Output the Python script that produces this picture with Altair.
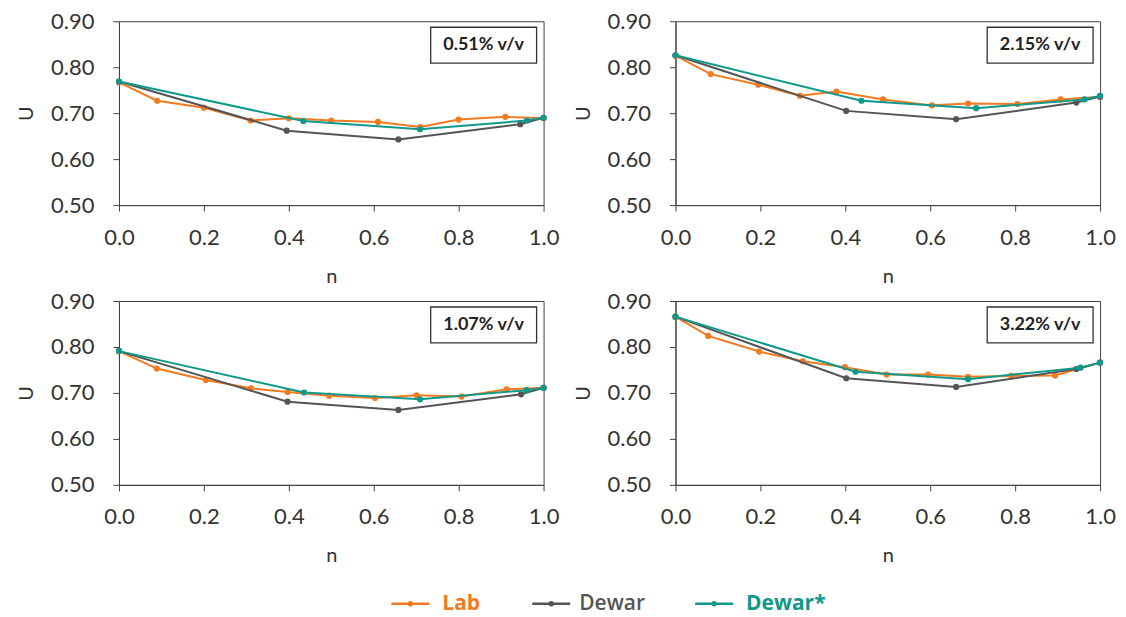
import altair as alt
import pandas as pd

SERIES = ["Lab", "Dewar", "Dewar*"]
COLORS = ["#F27A20", "#555555", "#10998A"]
LEGEND_WEIGHTS = ["bold", 600, "bold"]
PANEL_LABELS = ["0.51% v/v", "2.15% v/v", "1.07% v/v", "3.22% v/v"]

Y_TICKS = [0.50, 0.60, 0.70, 0.80, 0.90]
X_TICKS = [0.0, 0.2, 0.4, 0.6, 0.8, 1.0]

# ---- panel 1: 0.51% v/v
p1_lab_n = [0.00, 0.09, 0.20, 0.31, 0.40, 0.50, 0.61, 0.71, 0.80, 0.91, 1.00]
p1_lab_u = [0.767, 0.727, 0.712, 0.684, 0.689, 0.684, 0.681, 0.670, 0.686, 0.692, 0.689]
p1_dew_n = [0.00, 0.395, 0.658, 0.945, 1.00]
p1_dew_u = [0.769, 0.662, 0.643, 0.676, 0.690]
p1_dws_n = [0.00, 0.434, 0.709, 0.961, 1.00]
p1_dws_u = [0.769, 0.683, 0.665, 0.684, 0.690]

# ---- panel 2: 2.15% v/v
p2_lab_n = [0.00, 0.083, 0.195, 0.293, 0.379, 0.489, 0.604, 0.689, 0.805, 0.907, 1.00]
p2_lab_u = [0.825, 0.785, 0.762, 0.738, 0.747, 0.730, 0.717, 0.721, 0.720, 0.730, 0.736]
p2_dew_n = [0.00, 0.402, 0.661, 0.944, 1.00]
p2_dew_u = [0.826, 0.705, 0.687, 0.723, 0.736]
p2_dws_n = [0.00, 0.438, 0.708, 0.963, 1.00]
p2_dws_u = [0.826, 0.727, 0.711, 0.730, 0.738]

# ---- panel 3: 1.07% v/v
p3_lab_n = [0.00, 0.089, 0.204, 0.311, 0.397, 0.495, 0.603, 0.701, 0.807, 0.913, 1.00]
p3_lab_u = [0.791, 0.753, 0.728, 0.710, 0.702, 0.694, 0.689, 0.695, 0.692, 0.708, 0.711]
p3_dew_n = [0.00, 0.397, 0.658, 0.947, 1.00]
p3_dew_u = [0.791, 0.681, 0.663, 0.697, 0.711]
p3_dws_n = [0.00, 0.436, 0.709, 0.960, 1.00]
p3_dws_u = [0.791, 0.701, 0.686, 0.706, 0.711]

# ---- panel 4: 3.22% v/v
p4_lab_n = [0.00, 0.077, 0.197, 0.300, 0.399, 0.497, 0.595, 0.689, 0.791, 0.894, 1.00]
p4_lab_u = [0.866, 0.824, 0.790, 0.769, 0.756, 0.740, 0.740, 0.735, 0.737, 0.738, 0.766]
p4_dew_n = [0.00, 0.402, 0.661, 0.944, 1.00]
p4_dew_u = [0.866, 0.732, 0.713, 0.752, 0.766]
p4_dws_n = [0.00, 0.424, 0.689, 0.954, 1.00]
p4_dws_u = [0.866, 0.746, 0.730, 0.755, 0.766]

PANELS = [
    (PANEL_LABELS[0], [(p1_lab_n, p1_lab_u), (p1_dew_n, p1_dew_u), (p1_dws_n, p1_dws_u)]),
    (PANEL_LABELS[1], [(p2_lab_n, p2_lab_u), (p2_dew_n, p2_dew_u), (p2_dws_n, p2_dws_u)]),
    (PANEL_LABELS[2], [(p3_lab_n, p3_lab_u), (p3_dew_n, p3_dew_u), (p3_dws_n, p3_dws_u)]),
    (PANEL_LABELS[3], [(p4_lab_n, p4_lab_u), (p4_dew_n, p4_dew_u), (p4_dws_n, p4_dws_u)]),
]

FONT = "Lato"
LEGEND_FONT = "Open Sans"
PW, PH = 425, 184


def panel(label, series_data):
    xenc = alt.X("n:Q", scale=alt.Scale(domain=[0, 1], nice=False),
                 axis=alt.Axis(values=X_TICKS, format=".1f", title="n", labelFlush=False))
    yenc = alt.Y("U:Q", scale=alt.Scale(domain=[0.5, 0.9], nice=False, zero=False),
                 axis=alt.Axis(values=Y_TICKS, format=".2f", title="U"))
    layers = []
    for name, color, (n, u) in zip(SERIES, COLORS, series_data):
        d = pd.DataFrame({"n": n, "U": u, "series": name})
        base = alt.Chart(d).encode(x=xenc, y=yenc)
        layers.append(base.mark_line(color=color, strokeWidth=2))
        layers.append(base.mark_point(filled=True, color=color, size=38, opacity=1))
    lab = alt.Chart(pd.DataFrame({"label": [label]}))
    box = lab.mark_rect(fill="white", stroke="#333333", strokeWidth=1.3).encode(
        x=alt.value(312), x2=alt.value(418), y=alt.value(6), y2=alt.value(42))
    txt = lab.mark_text(font=FONT, fontSize=18, fontWeight="bold", color="#222222",
                        align="center", baseline="middle").encode(
        x=alt.value(365), y=alt.value(24), text="label:N")
    return alt.layer(*layers, box, txt).properties(
        width=PW, height=PH,
        view=alt.ViewBackground(stroke="#404040", strokeWidth=1))


def legend_item(name, color, weight, w, text_dx):
    b = alt.Chart(pd.DataFrame({"series": [name]}))
    line = b.mark_rule(color=color, strokeWidth=2.5).encode(
        x=alt.value(0), x2=alt.value(38), y=alt.value(12))
    dot = b.mark_point(filled=True, color=color, size=28, opacity=1).encode(
        x=alt.value(19), y=alt.value(12))
    txt = b.mark_text(font=LEGEND_FONT, fontSize=21, fontWeight=weight, color=color,
                      align="left", baseline="middle").encode(
        x=alt.value(text_dx), y=alt.value(12), text="series:N")
    return alt.layer(line, dot, txt).properties(width=w, height=24)


panels = [panel(lbl, sd) for lbl, sd in PANELS]
row1 = alt.hconcat(panels[0], panels[1], spacing=13)
row2 = alt.hconcat(panels[2], panels[3], spacing=13)
grid = alt.vconcat(row1, row2, spacing=2)

legend = alt.hconcat(
    legend_item(SERIES[0], COLORS[0], LEGEND_WEIGHTS[0], 138, 51),
    legend_item(SERIES[1], COLORS[1], LEGEND_WEIGHTS[1], 160, 47),
    legend_item(SERIES[2], COLORS[2], LEGEND_WEIGHTS[2], 148, 51),
    spacing=0,
)

chart = alt.vconcat(grid, legend, spacing=24, center=True).properties(
    padding={"left": 8, "top": 1, "right": 2, "bottom": 2},
).configure(
    font=FONT,
).configure_view(
    stroke="transparent",
).configure_axis(
    grid=False,
    labelFont=FONT, labelFontSize=22, labelColor="#333333",
    titleFont=FONT, titleFontSize=20, titleFontWeight="normal", titleColor="#333333",
    domainColor="#404040", tickColor="#404040", tickSize=6,
).configure_axisY(
    labelPadding=19, titlePadding=14,
).configure_axisX(
    labelPadding=16, titlePadding=18,
)

chart.save("out.html", embed_options={"renderer": "svg", "actions": False})
